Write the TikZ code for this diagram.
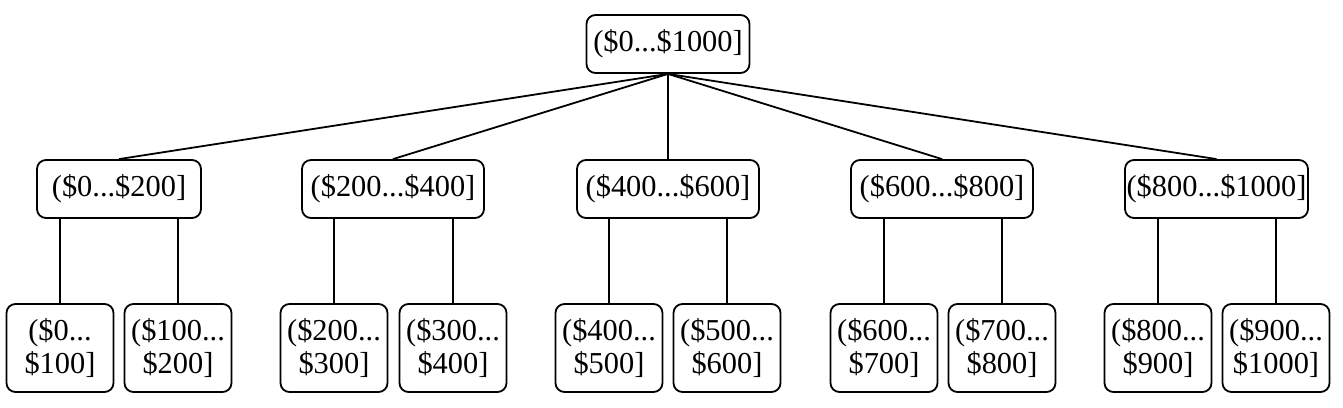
\documentclass[tikz,border=0pt]{standalone}
\usepackage{fontspec}
\setmainfont{Liberation Serif}
\begin{document}
\begin{tikzpicture}[x=0.5pt,y=-0.5pt,
  box/.style={draw,line width=0.9pt,rounded corners=4.5pt,inner sep=0pt,
    font=\fontsize{15.2}{16.5}\selectfont,align=center,minimum height=29pt},
  leaf/.style={box,minimum width=53.5pt,minimum height=44pt},
  edge/.style={line width=0.9pt}]
\useasboundingbox (0,0) rectangle (1343,407);
\node[box,minimum width=81.5pt] (top) at (668,44) {(\$0...\$1000]};
\node[box,minimum width=82pt] (m1) at (119,189) {(\$0...\$200]};
\node[box,minimum width=91pt] (m2) at (393,189) {(\$200...\$400]};
\node[box,minimum width=91pt] (m3) at (668,189) {(\$400...\$600]};
\node[box,minimum width=91pt] (m4) at (942,189) {(\$600...\$800]};
\node[box,minimum width=91.5pt] (m5) at (1216.5,189) {(\$800...\$1000]};
\node[leaf] (l1) at (60,348) {(\$0...\\\$100]};
\node[leaf] (l2) at (178,348) {(\$100...\\\$200]};
\node[leaf] (l3) at (334,348) {(\$200...\\\$300]};
\node[leaf] (l4) at (453,348) {(\$300...\\\$400]};
\node[leaf] (l5) at (609,348) {(\$400...\\\$500]};
\node[leaf] (l6) at (727,348) {(\$500...\\\$600]};
\node[leaf] (l7) at (884,348) {(\$600...\\\$700]};
\node[leaf] (l8) at (1002,348) {(\$700...\\\$800]};
\node[leaf] (l9) at (1158,348) {(\$800...\\\$900]};
\node[leaf] (l10) at (1276,348) {(\$900...\\\$1000]};
\foreach \m in {1,...,5} \draw[edge] (top.south) -- (m\m.north);
\foreach \l/\m in {1/1,2/1,3/2,4/2,5/3,6/3,7/4,8/4,9/5,10/5}
  \draw[edge] (l\l.north) -- (l\l.north |- m\m.south);
\end{tikzpicture}
\end{document}
